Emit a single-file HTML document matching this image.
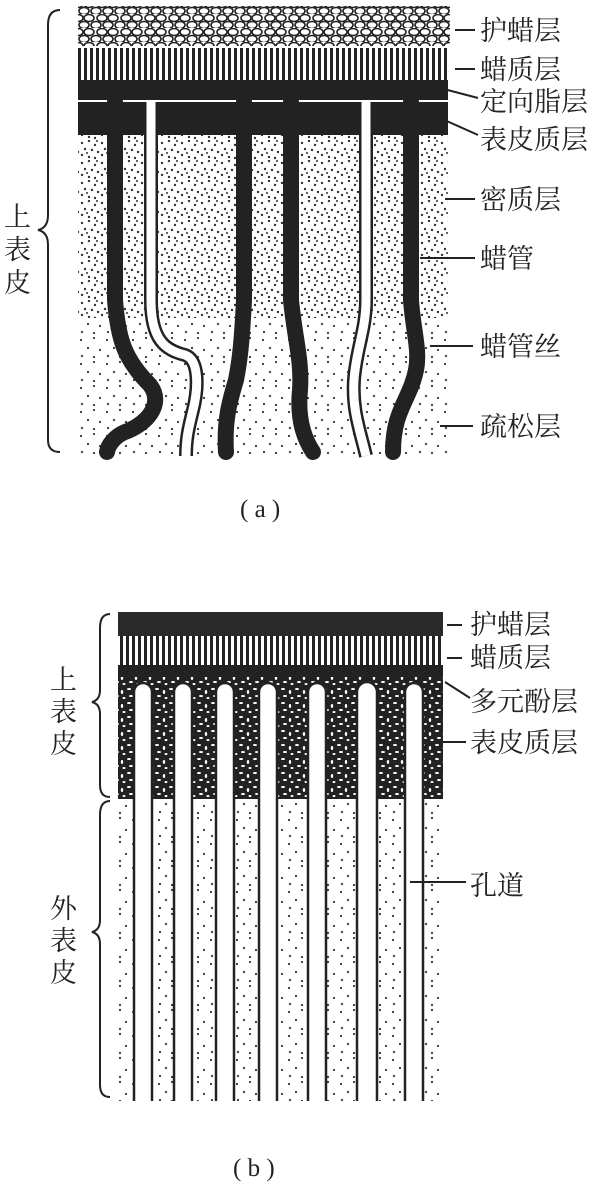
<!DOCTYPE html>
<html><head><meta charset="utf-8"><style>
html,body{margin:0;padding:0;background:#fff;}
svg{display:block}
text{font-family:"Liberation Serif","Noto Serif CJK SC",serif;fill:#222;font-size:27px;}
</style></head><body>
<svg width="615" height="1186" viewBox="0 0 615 1186" xmlns="http://www.w3.org/2000/svg">
<defs>
<pattern id="cob" width="24" height="14" patternUnits="userSpaceOnUse">
<rect width="24" height="14" fill="#fff"/>
<ellipse cx="6" cy="4" rx="5" ry="3.5" fill="none" stroke="#222" stroke-width="1.6"/>
<ellipse cx="17" cy="4" rx="5" ry="3.5" fill="none" stroke="#222" stroke-width="1.6"/>
<ellipse cx="0" cy="11" rx="5" ry="3.5" fill="none" stroke="#222" stroke-width="1.6"/>
<ellipse cx="12" cy="11" rx="5" ry="3.5" fill="none" stroke="#222" stroke-width="1.6"/>
<ellipse cx="24" cy="11" rx="5" ry="3.5" fill="none" stroke="#222" stroke-width="1.6"/>
</pattern>
<pattern id="wax" width="6" height="10" patternUnits="userSpaceOnUse">
<rect width="6" height="10" fill="#fff"/><rect width="3" height="10" fill="#222"/>
</pattern>
<pattern id="dense" width="20" height="20" patternUnits="userSpaceOnUse">
<rect width="20" height="20" fill="#fff"/>
<g fill="#333">
<circle cx="2" cy="3" r="1.2"/><circle cx="9" cy="1" r="1.2"/><circle cx="15" cy="5" r="1.2"/>
<circle cx="5" cy="9" r="1.2"/><circle cx="12" cy="10" r="1.2"/><circle cx="18" cy="12" r="1.2"/>
<circle cx="2" cy="15" r="1.2"/><circle cx="9" cy="17" r="1.2"/><circle cx="15" cy="18" r="1.2"/>
<circle cx="7" cy="13" r="1"/><circle cx="17" cy="1" r="1"/>
</g></pattern>
<pattern id="loose" width="26" height="24" patternUnits="userSpaceOnUse">
<rect width="26" height="24" fill="#fff"/>
<g fill="#333">
<circle cx="3" cy="4" r="1.1"/><circle cx="16" cy="2" r="1.1"/><circle cx="10" cy="12" r="1.1"/>
<circle cx="22" cy="14" r="1.1"/><circle cx="4" cy="20" r="1.1"/><circle cx="16" cy="21" r="1.1"/>
</g></pattern>
<pattern id="cut" width="14" height="14" patternUnits="userSpaceOnUse">
<rect width="14" height="14" fill="#222"/>
<g fill="#fff">
<ellipse cx="3" cy="3" rx="2" ry="1"/><ellipse cx="10" cy="6" rx="1.2" ry="2"/>
<ellipse cx="5" cy="10" rx="2" ry="1"/><ellipse cx="12" cy="12" rx="1.5" ry="1"/>
</g></pattern>
</defs>

<!-- (a) -->
<rect x="78" y="6" width="372" height="40" fill="url(#cob)"/>
<rect x="78" y="48" width="370" height="32" fill="url(#wax)"/>
<rect x="78" y="318" width="370" height="138" fill="url(#loose)"/>
<rect x="78" y="135" width="370" height="183" fill="url(#dense)"/>
<rect x="78" y="80" width="370" height="20" fill="#222"/>
<rect x="78" y="102" width="370" height="33" fill="#222"/>
<rect x="78" y="100" width="290" height="2" fill="#fff"/>
<g fill="none" stroke="#222" stroke-width="16" stroke-linecap="round">
<path d="M115 102 L115 300 C118 340 125 360 150 385 C165 405 145 425 125 432 C115 436 108 445 107 452"/>
<path d="M244 102 L244 300 C242 340 240 360 236 380 C230 400 224 420 226 452"/>
<path d="M291 102 L291 300 C295 340 302 360 300 390 C297 420 305 440 313 452"/>
<path d="M411 102 L411 300 C413 330 420 350 416 370 C410 400 393 410 393 452"/>
</g>
<g fill="none" stroke="#222" stroke-width="14">
<path d="M151 102 L151 300 C151 340 165 350 185 355 C200 360 198 390 193 410 C188 430 186 440 186 456"/>
<path d="M366 102 L366 300 C366 330 356 350 354 380 C352 410 360 430 366 456"/>
</g>
<g fill="none" stroke="#fff" stroke-width="9">
<path d="M151 102 L151 300 C151 340 165 350 185 355 C200 360 198 390 193 410 C188 430 186 440 186 456"/>
<path d="M366 102 L366 300 C366 330 356 350 354 380 C352 410 360 430 366 456"/>
</g>
<path d="M60 10 Q48 10 48 25 L48 215 Q48 228 38 230 Q48 232 48 245 L48 440 Q48 452 60 452" fill="none" stroke="#222" stroke-width="2"/>
<text x="4" y="226">上</text><text x="4" y="259">表</text><text x="4" y="292">皮</text>
<g stroke="#222" stroke-width="2">
<line x1="455" y1="30" x2="475" y2="30"/><line x1="455" y1="69" x2="475" y2="69"/>
<line x1="440" y1="88" x2="478" y2="98"/><line x1="440" y1="118" x2="478" y2="135"/>
<line x1="445" y1="199" x2="475" y2="199"/><line x1="420" y1="258" x2="475" y2="258"/>
<line x1="430" y1="346" x2="473" y2="346"/><line x1="440" y1="426" x2="473" y2="426"/>
</g>
<text x="480" y="40">护蜡层</text><text x="480" y="79">蜡质层</text>
<text x="480" y="111">定向脂层</text><text x="480" y="149">表皮质层</text>
<text x="480" y="209">密质层</text><text x="480" y="268">蜡管</text>
<text x="480" y="356">蜡管丝</text><text x="480" y="436">疏松层</text>
<text x="240" y="517" style="font-size:25px">( a )</text>

<!-- (b) -->
<rect x="118" y="612" width="325" height="24" fill="#2a2a2a"/>
<rect x="118" y="636" width="325" height="29" fill="url(#wax)"/>
<rect x="118" y="665" width="325" height="12" fill="#222"/>
<rect x="118" y="677" width="325" height="122" fill="url(#cut)"/>
<rect x="118" y="799" width="325" height="302" fill="url(#loose)"/>
<g fill="#fff" stroke="#222" stroke-width="2.5">
<path d="M134 1101 V692 a9 9 0 0 1 18 0 V1101"/>
<path d="M174 1101 V692 a9 9 0 0 1 18 0 V1101"/>
<path d="M216 1101 V692 a9 9 0 0 1 18 0 V1101"/>
<path d="M259 1101 V692 a9 9 0 0 1 18 0 V1101"/>
<path d="M308 1101 V692 a9 9 0 0 1 18 0 V1101"/>
<path d="M357 1101 V692 a10 10 0 0 1 20 0 V1101"/>
<path d="M405 1101 V692 a9 9 0 0 1 18 0 V1101"/>
</g>
<path d="M110 614 Q100 614 100 628 L100 690 Q100 700 92 702 Q100 704 100 714 L100 785 Q100 797 110 797" fill="none" stroke="#222" stroke-width="2"/>
<path d="M110 801 Q100 801 100 815 L100 920 Q100 930 92 932 Q100 934 100 944 L100 1085 Q100 1097 110 1097" fill="none" stroke="#222" stroke-width="2"/>
<text x="50" y="689">上</text><text x="50" y="721">表</text><text x="50" y="753">皮</text>
<text x="50" y="918">外</text><text x="50" y="950">表</text><text x="50" y="982">皮</text>
<g stroke="#222" stroke-width="2">
<line x1="447" y1="625" x2="462" y2="625"/><line x1="447" y1="658" x2="462" y2="658"/>
<line x1="445" y1="682" x2="470" y2="698"/><line x1="440" y1="742" x2="466" y2="742"/>
<line x1="410" y1="882" x2="466" y2="882"/>
</g>
<text x="470" y="634">护蜡层</text><text x="470" y="667">蜡质层</text>
<text x="470" y="711">多元酚层</text><text x="470" y="752">表皮质层</text>
<text x="470" y="895">孔道</text>
<text x="233" y="1176" style="font-size:25px">( b )</text>
</svg>
</body></html>
